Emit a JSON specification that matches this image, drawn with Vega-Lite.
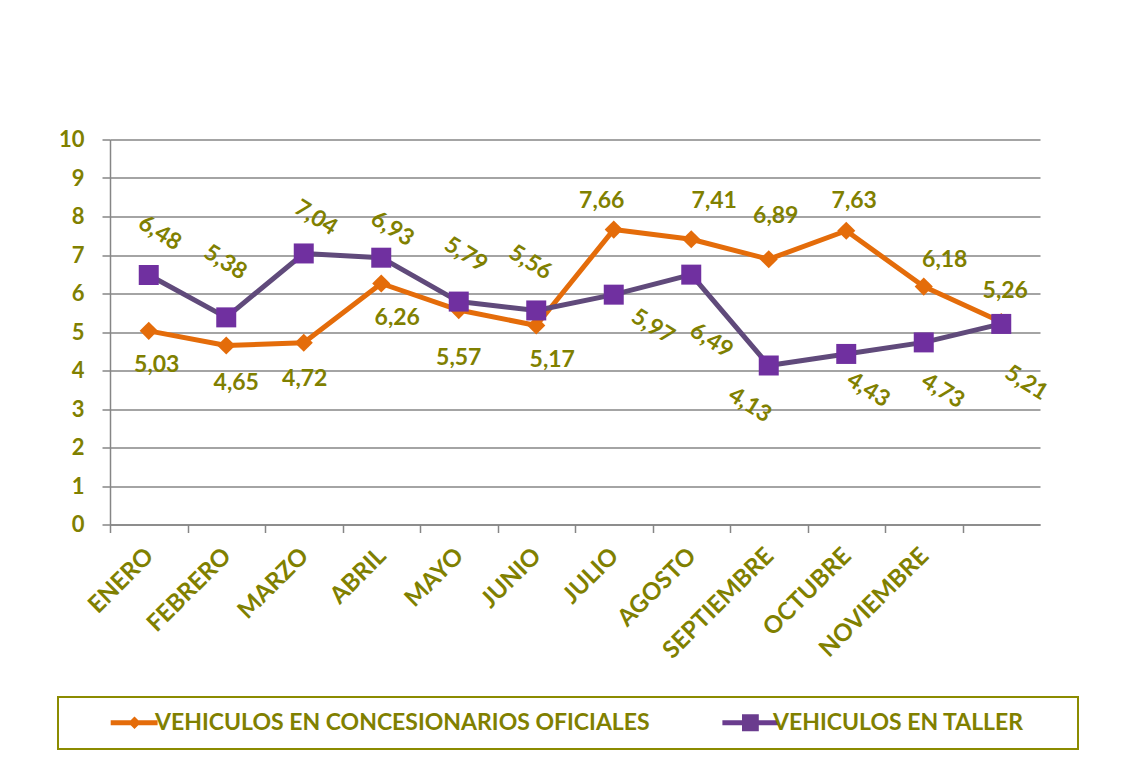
{
  "$schema": "https://vega.github.io/schema/vega-lite/v6.json",
  "width": 930,
  "height": 385,
  "autosize": {"type": "none"},
  "padding": {"left": 110, "top": 139.5, "right": 87, "bottom": 255.5},
  "background": "white",
  "config": {
    "font": "Lato",
    "view": {"stroke": null},
    "legend": {"strokeWidth": 2},
    "locale": {"number": {"decimal": ",", "thousands": ".", "grouping": [3], "currency": ["", " €"]}},
    "text": {"fontSize": 23, "fontWeight": "bold", "fill": "#808000", "align": "center", "baseline": "middle"}
  },
  "data": {
    "values": [
      {"mes": "ENERO", "serie": "VEHICULOS EN CONCESIONARIOS OFICIALES", "valor": 5.03},
      {"mes": "FEBRERO", "serie": "VEHICULOS EN CONCESIONARIOS OFICIALES", "valor": 4.65},
      {"mes": "MARZO", "serie": "VEHICULOS EN CONCESIONARIOS OFICIALES", "valor": 4.72},
      {"mes": "ABRIL", "serie": "VEHICULOS EN CONCESIONARIOS OFICIALES", "valor": 6.26},
      {"mes": "MAYO", "serie": "VEHICULOS EN CONCESIONARIOS OFICIALES", "valor": 5.57},
      {"mes": "JUNIO", "serie": "VEHICULOS EN CONCESIONARIOS OFICIALES", "valor": 5.17},
      {"mes": "JULIO", "serie": "VEHICULOS EN CONCESIONARIOS OFICIALES", "valor": 7.66},
      {"mes": "AGOSTO", "serie": "VEHICULOS EN CONCESIONARIOS OFICIALES", "valor": 7.41},
      {"mes": "SEPTIEMBRE", "serie": "VEHICULOS EN CONCESIONARIOS OFICIALES", "valor": 6.89},
      {"mes": "OCTUBRE", "serie": "VEHICULOS EN CONCESIONARIOS OFICIALES", "valor": 7.63},
      {"mes": "NOVIEMBRE", "serie": "VEHICULOS EN CONCESIONARIOS OFICIALES", "valor": 6.18},
      {"mes": "DICIEMBRE", "serie": "VEHICULOS EN CONCESIONARIOS OFICIALES", "valor": 5.26},
      {"mes": "ENERO", "serie": "VEHICULOS EN TALLER", "valor": 6.48},
      {"mes": "FEBRERO", "serie": "VEHICULOS EN TALLER", "valor": 5.38},
      {"mes": "MARZO", "serie": "VEHICULOS EN TALLER", "valor": 7.04},
      {"mes": "ABRIL", "serie": "VEHICULOS EN TALLER", "valor": 6.93},
      {"mes": "MAYO", "serie": "VEHICULOS EN TALLER", "valor": 5.79},
      {"mes": "JUNIO", "serie": "VEHICULOS EN TALLER", "valor": 5.56},
      {"mes": "JULIO", "serie": "VEHICULOS EN TALLER", "valor": 5.97},
      {"mes": "AGOSTO", "serie": "VEHICULOS EN TALLER", "valor": 6.49},
      {"mes": "SEPTIEMBRE", "serie": "VEHICULOS EN TALLER", "valor": 4.13},
      {"mes": "OCTUBRE", "serie": "VEHICULOS EN TALLER", "valor": 4.43},
      {"mes": "NOVIEMBRE", "serie": "VEHICULOS EN TALLER", "valor": 4.73},
      {"mes": "DICIEMBRE", "serie": "VEHICULOS EN TALLER", "valor": 5.21}
    ]
  },
  "encoding": {
    "x": {
      "field": "mes", "type": "nominal",
      "sort": ["ENERO", "FEBRERO", "MARZO", "ABRIL", "MAYO", "JUNIO", "JULIO", "AGOSTO", "SEPTIEMBRE", "OCTUBRE", "NOVIEMBRE", "DICIEMBRE"],
      "scale": {"type": "point", "padding": 0.5},
      "axis": {
        "title": null, "grid": false,
        "domainColor": "#868686", "domainWidth": 1.5,
        "tickColor": "#868686", "tickWidth": 1.5, "tickSize": 8,
        "tickOffset": -38.75, "labelOffset": 31,
        "labelAngle": -45, "labelAlign": "right", "labelBaseline": "top", "labelPadding": 11,
        "labelFont": "Lato", "labelFontSize": 24, "labelFontWeight": "bold", "labelColor": "#808000", "labelLimit": 400,
        "labelExpr": "datum.value == 'DICIEMBRE' ? '' : datum.value"
      }
    },
    "y": {
      "field": "valor", "type": "quantitative",
      "scale": {"domain": [0, 10], "nice": false},
      "axis": {
        "title": null, "values": [0, 1, 2, 3, 4, 5, 6, 7, 8, 9, 10],
        "grid": true, "gridColor": "#868686", "gridWidth": 1.5,
        "domainColor": "#868686", "domainWidth": 1.5,
        "tickColor": "#868686", "tickWidth": 1.5, "tickSize": 8,
        "labelPadding": 18, "labelFont": "Lato", "labelFontSize": 22, "labelFontWeight": "bold", "labelColor": "#808000"
      }
    }
  },
  "layer": [
    {
      "transform": [{"filter": "datum.serie == 'VEHICULOS EN CONCESIONARIOS OFICIALES'"}],
      "mark": {"type": "line", "color": "#E46C0A", "strokeWidth": 5, "strokeCap": "round", "strokeJoin": "round"}
    },
    {
      "transform": [{"filter": "datum.serie == 'VEHICULOS EN CONCESIONARIOS OFICIALES'"}],
      "mark": {"type": "point", "shape": "diamond", "filled": true, "size": 330, "color": "#E46C0A", "opacity": 1}
    },
    {
      "transform": [{"filter": "datum.serie == 'VEHICULOS EN TALLER'"}],
      "mark": {"type": "line", "color": "#604A7B", "strokeWidth": 5, "strokeCap": "round", "strokeJoin": "round"}
    },
    {
      "transform": [{"filter": "datum.serie == 'VEHICULOS EN TALLER'"}],
      "mark": {"type": "point", "shape": "square", "filled": true, "size": 400, "color": "#7030A0", "opacity": 1}
    },
    {
      "mark": {"type": "point", "filled": true, "opacity": 0},
      "encoding": {
        "color": {
          "field": "serie", "type": "nominal",
          "scale": {"domain": ["VEHICULOS EN CONCESIONARIOS OFICIALES", "VEHICULOS EN TALLER"], "range": ["#E46C0A", "#6A3C8E"]},
          "legend": {
            "title": "\u00a0", "titleOrient": "right", "titlePadding": 40, "titleFontSize": 10,
            "orient": "none", "legendX": -52, "legendY": 557.5, "direction": "horizontal",
            "padding": 14, "strokeColor": "#8B8B00", "fillColor": "white",
            "symbolSize": 196, "symbolOffset": 51, "labelOffset": 9, "columnPadding": 40, "symbolOpacity": 1, "symbolStrokeWidth": 0,
            "labelFont": "Lato", "labelFontSize": 23, "labelFontWeight": "bold", "labelColor": "#808000", "labelLimit": 1000
          }
        },
        "shape": {
          "field": "serie", "type": "nominal",
          "scale": {"domain": ["VEHICULOS EN CONCESIONARIOS OFICIALES", "VEHICULOS EN TALLER"], "range": ["M-3.4,-0.36H3.3V0.36H-3.4Z M0,-0.9L0.9,0L0,0.9L-0.9,0Z", "M-4.3,-0.36H3.7V0.36H-4.3Z M-1.5,-1.2H0.9V1.2H-1.5Z"]},
          "legend": {
            "title": "\u00a0", "titleOrient": "right", "titlePadding": 40, "titleFontSize": 10,
            "orient": "none", "legendX": -52, "legendY": 557.5, "direction": "horizontal",
            "padding": 14, "strokeColor": "#8B8B00", "fillColor": "white",
            "symbolSize": 196, "symbolOffset": 51, "labelOffset": 9, "columnPadding": 40, "symbolOpacity": 1, "symbolStrokeWidth": 0,
            "labelFont": "Lato", "labelFontSize": 23, "labelFontWeight": "bold", "labelColor": "#808000", "labelLimit": 1000
          }
        }
      }
    },
    {
      "transform": [{"filter": "datum.serie == 'VEHICULOS EN CONCESIONARIOS OFICIALES'"}],
      "encoding": {"text": {"field": "valor", "type": "quantitative", "format": ".2f"}},
      "layer": [
        {"transform": [{"filter": "datum.mes == 'ENERO'"}], "mark": {"type": "text", "dx": 8, "dy": 34}},
        {"transform": [{"filter": "datum.mes == 'FEBRERO'"}], "mark": {"type": "text", "dx": 10, "dy": 38}},
        {"transform": [{"filter": "datum.mes == 'MARZO'"}], "mark": {"type": "text", "dx": 1, "dy": 36}},
        {"transform": [{"filter": "datum.mes == 'ABRIL'"}], "mark": {"type": "text", "dx": 16, "dy": 35}},
        {"transform": [{"filter": "datum.mes == 'MAYO'"}], "mark": {"type": "text", "dx": 0, "dy": 48}},
        {"transform": [{"filter": "datum.mes == 'JUNIO'"}], "mark": {"type": "text", "dx": 16, "dy": 35}},
        {"transform": [{"filter": "datum.mes == 'JULIO'"}], "mark": {"type": "text", "dx": -12, "dy": -29}},
        {"transform": [{"filter": "datum.mes == 'AGOSTO'"}], "mark": {"type": "text", "dx": 23, "dy": -38}},
        {"transform": [{"filter": "datum.mes == 'SEPTIEMBRE'"}], "mark": {"type": "text", "dx": 7, "dy": -43}},
        {"transform": [{"filter": "datum.mes == 'OCTUBRE'"}], "mark": {"type": "text", "dx": 8, "dy": -30}},
        {"transform": [{"filter": "datum.mes == 'NOVIEMBRE'"}], "mark": {"type": "text", "dx": 21, "dy": -27}},
        {"transform": [{"filter": "datum.mes == 'DICIEMBRE'"}], "mark": {"type": "text", "dx": 4, "dy": -31}}
      ]
    },
    {
      "transform": [{"filter": "datum.serie == 'VEHICULOS EN TALLER'"}],
      "encoding": {"text": {"field": "valor", "type": "quantitative", "format": ".2f"}},
      "layer": [
        {"transform": [{"filter": "datum.mes == 'ENERO'"}], "mark": {"type": "text", "angle": 32, "dx": -12.9, "dy": -41.4}},
        {"transform": [{"filter": "datum.mes == 'FEBRERO'"}], "mark": {"type": "text", "angle": 32, "dx": -30, "dy": -46.1}},
        {"transform": [{"filter": "datum.mes == 'MARZO'"}], "mark": {"type": "text", "angle": 32, "dx": -8.6, "dy": -36.5}},
        {"transform": [{"filter": "datum.mes == 'ABRIL'"}], "mark": {"type": "text", "angle": 32, "dx": -6, "dy": -30.4}},
        {"transform": [{"filter": "datum.mes == 'MAYO'"}], "mark": {"type": "text", "angle": 32, "dx": -19, "dy": -43.6}},
        {"transform": [{"filter": "datum.mes == 'JUNIO'"}], "mark": {"type": "text", "angle": 32, "dx": -30.5, "dy": -37.5}},
        {"transform": [{"filter": "datum.mes == 'JULIO'"}], "mark": {"type": "text", "angle": 32, "dx": 50, "dy": 6.4}},
        {"transform": [{"filter": "datum.mes == 'AGOSTO'"}], "mark": {"type": "text", "angle": 32, "dx": 52, "dy": 45.4}},
        {"transform": [{"filter": "datum.mes == 'SEPTIEMBRE'"}], "mark": {"type": "text", "angle": 32, "dx": 4.8, "dy": 43.6}},
        {"transform": [{"filter": "datum.mes == 'OCTUBRE'"}], "mark": {"type": "text", "angle": 32, "dx": 37.7, "dy": 18.9}},
        {"transform": [{"filter": "datum.mes == 'NOVIEMBRE'"}], "mark": {"type": "text", "angle": 32, "dx": 41.9, "dy": 31.1}},
        {"transform": [{"filter": "datum.mes == 'DICIEMBRE'"}], "mark": {"type": "text", "angle": 32, "dx": 52.5, "dy": 36.8}}
      ]
    }
  ]
}
